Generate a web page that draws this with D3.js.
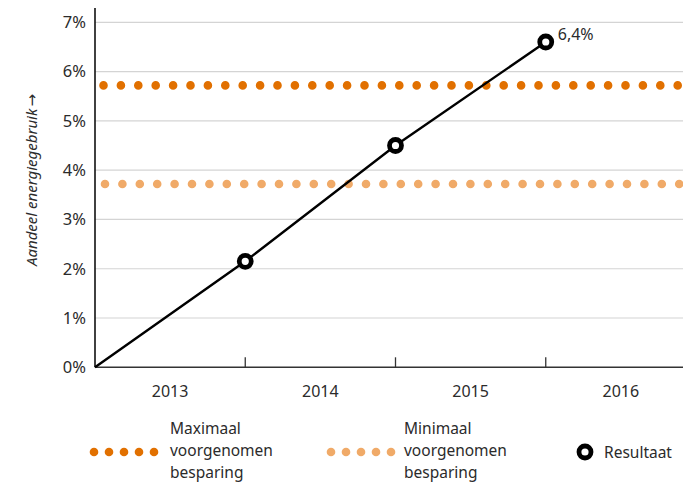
<!DOCTYPE html>
<html><head><meta charset="utf-8">
<script src="https://cdn.jsdelivr.net/npm/d3@7"></script>
<style>
html,body{margin:0;padding:0;background:#fff;}
text{font-family:"Noto Sans",sans-serif;fill:#2b2b2b;}
</style></head>
<body><svg id="c" width="683" height="482"></svg>
<script>
const years = [2013, 2014, 2015, 2016];
const yTicks = [0, 1, 2, 3, 4, 5, 6, 7];
const resultYears = [2013, 2014, 2015, 2016];   // year boundaries (start of 2013, end of each year)
const resultValues = [0, 2.15, 4.5, 6.6];
const resultLabel = "6,4%";
const maxSaving = 5.72;
const minSaving = 3.72;
const legendLabels = [["Maximaal","voorgenomen","besparing"],["Minimaal","voorgenomen","besparing"],["Resultaat"]];
const colMax = "#e17000", colMin = "#f0aa68";

const svg = d3.select("#c");
const x = d3.scaleLinear().domain([2013, 2017]).range([95, 696]);
const y = d3.scaleLinear().domain([0, 7]).range([367.3, 22.3]);
const W = 683;

// gridlines
svg.append("g").selectAll("line").data(yTicks.filter(d=>d>0)).join("line")
  .attr("x1", x(2013)).attr("x2", W).attr("y1", d=>y(d)).attr("y2", d=>y(d))
  .attr("stroke", "#d4d4d4").attr("stroke-width", 1.2);

// y tick labels
svg.append("g").selectAll("text").data(yTicks).join("text")
  .attr("x", 86).attr("y", d=>y(d)).attr("dy", "0.35em").attr("text-anchor","end")
  .attr("font-size", 16.5).text(d=>d+"%");

// dotted savings lines
function dotted(val, col, x0) {
  svg.append("line").attr("x1", x0).attr("x2", W+10).attr("y1", y(val)).attr("y2", y(val))
    .attr("stroke", col).attr("stroke-width", 8.6).attr("stroke-linecap","round")
    .attr("stroke-dasharray", "0 17.4");
}
dotted(maxSaving, colMax, x(2013)+8.5);
dotted(minSaving, colMin, x(2013)+10);

// axes
svg.append("line").attr("x1", x(2013)).attr("x2", x(2013)).attr("y1", 8).attr("y2", y(0))
  .attr("stroke", "#111").attr("stroke-width", 1.6);
svg.append("line").attr("x1", x(2013)).attr("x2", W).attr("y1", y(0)).attr("y2", y(0))
  .attr("stroke", "#333").attr("stroke-width", 1.6);
svg.append("g").selectAll("line").data(years.slice(1)).join("line")
  .attr("x1", d=>x(d)).attr("x2", d=>x(d)).attr("y1", y(0)-10).attr("y2", y(0))
  .attr("stroke", "#333").attr("stroke-width", 1.3);
svg.append("g").selectAll("text").data(years).join("text")
  .attr("x", d=>x(d+0.5)).attr("y", 397).attr("text-anchor","middle")
  .attr("font-size", 16).text(d=>d);

// y title
const yt = svg.append("text").attr("transform", "translate(37,180) rotate(-90)")
  .attr("text-anchor","middle").attr("font-size", 15).attr("font-style","italic");
yt.append("tspan").text("Aandeel energiegebruik");
yt.append("tspan").attr("font-family","DejaVu Sans").attr("font-style","normal")
  .attr("font-size", 15).attr("dx", 2).text("\u2192");

// result line
const pts = resultYears.map((d,i)=>[x(d), y(resultValues[i])]);
svg.append("path").attr("d", d3.line()(pts)).attr("fill","none")
  .attr("stroke","#000").attr("stroke-width", 2.4);
svg.append("g").selectAll("circle").data(pts.slice(1)).join("circle")
  .attr("cx", d=>d[0]).attr("cy", d=>d[1]).attr("r", 6)
  .attr("fill","#fff").attr("stroke","#000").attr("stroke-width", 4.8);
const last = pts[pts.length-1];
svg.append("text").attr("x", last[0]+12).attr("y", last[1]-2)
  .attr("font-size", 16).text(resultLabel);

// legend
function legendDots(x0, col) {
  svg.append("g").selectAll("circle").data(d3.range(5)).join("circle")
    .attr("cx", i=>x0 + i*15).attr("cy", 452).attr("r", 4.3).attr("fill", col);
}
legendDots(94, colMax);
legendDots(331, colMin);
function legendText(x0, lines, y0) {
  const t = svg.append("text").attr("x", x0).attr("y", y0).attr("font-size", 15.5);
  lines.forEach((l,i)=> t.append("tspan").attr("x", x0).attr("dy", i?22:0).text(l));
}
legendText(170, legendLabels[0], 434);
legendText(404, legendLabels[1], 434);
svg.append("circle").attr("cx", 585).attr("cy", 452).attr("r", 6)
  .attr("fill","#fff").attr("stroke","#000").attr("stroke-width", 4.8);
legendText(604, legendLabels[2], 458);
</script></body></html>
